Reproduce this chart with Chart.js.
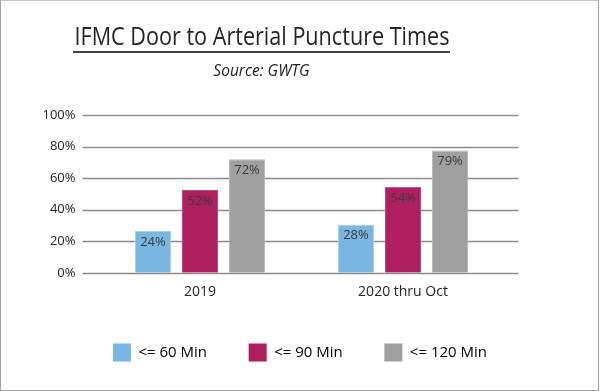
<!DOCTYPE html>
<html>
<head>
<meta charset="utf-8">
<script src="https://cdn.jsdelivr.net/npm/chart.js@4"></script>
<style>
  html, body { margin: 0; padding: 0; background: #fff; }
  #wrap { position: relative; width: 599px; height: 391px; box-sizing: border-box;
          border: 1px solid #a3a3a3; border-top-color: #c8c8c8; overflow: hidden; }
  #chart { position: absolute; left: -1px; top: -1px; }
  #title { position: absolute; left: 72px; top: 19px; width: 377px; height: 30px;
           border-bottom: 2px solid #444; padding-bottom: 1px; }
  #title span { position: absolute; left: 50%; top: 0; white-space: nowrap; line-height: 30px;
                font-family: "Open Sans", sans-serif; font-size: 25px; color: #262626; }
  #sub { position: absolute; left: 72px; top: 58px; width: 377px; text-align: center;
         font-family: "Open Sans", sans-serif; font-style: italic; font-size: 15.5px; color: #222; }
</style>
</head>
<body>
<div id="wrap">
  <canvas id="chart" width="600" height="391"></canvas>
  <div id="title"><span>IFMC Door to Arterial Puncture Times</span></div>
  <div id="sub">Source: GWTG</div>
</div>
<script>
const categories = ['2019', '2020 thru Oct'];
const seriesNames = ['<= 60 Min', '<= 90 Min', '<= 120 Min'];
const within60 = [26.5, 30.5];
const within90 = [52.5, 54.5];
const within120 = [72, 77.5];
const labels60 = ['24%', '28%'];
const labels90 = ['52%', '54%'];
const labels120 = ['72%', '79%'];
const yTicks = [0, 20, 40, 60, 80, 100];

const colors = ['#79b6e1', '#ad1f5f', '#9f9f9f'];
const edges = ['#a9d0ec', '#c04a80', '#b8b8b8'];
const seriesValues = [within60, within90, within120];
const seriesLabels = [labels60, labels90, labels120];

const font = "'Open Sans', sans-serif";

// squeeze the title so it fits the underline like the original
const titleSpan = document.querySelector('#title span');
const k = 375 / titleSpan.getBoundingClientRect().width;
titleSpan.style.transform = 'translateX(-50%) scaleX(' + k + ')';

const gridAndLabels = {
  id: 'gridAndLabels',
  beforeDatasetsDraw(chart) {
    const { ctx, chartArea, scales } = chart;
    ctx.save();
    ctx.strokeStyle = '#8c8c8c';
    ctx.lineWidth = 1.3;
    yTicks.forEach(v => {
      const y = Math.round(scales.y.getPixelForValue(v)) + 0.5;
      ctx.beginPath();
      ctx.moveTo(chartArea.left - 16, y);
      ctx.lineTo(chartArea.right + 14, y);
      ctx.stroke();
    });
    ctx.restore();
  },
  afterDatasetsDraw(chart) {
    const { ctx } = chart;
    ctx.save();
    ctx.font = '13px ' + font;
    ctx.fillStyle = '#3c3c3c';
    ctx.textAlign = 'center';
    ctx.textBaseline = 'middle';
    chart.data.datasets.forEach((ds, i) => {
      chart.getDatasetMeta(i).data.forEach((bar, j) => {
        ctx.fillText(seriesLabels[i][j], bar.x, bar.y + 11);
      });
    });
    ctx.restore();
  }
};

new Chart(document.getElementById('chart'), {
  type: 'bar',
  data: {
    labels: categories,
    datasets: seriesNames.map((name, i) => ({
      label: name,
      data: seriesValues[i],
      backgroundColor: colors[i],
      borderColor: edges[i],
      borderWidth: 1,
      categoryPercentage: 0.695,
      barPercentage: 0.766
    }))
  },
  options: {
    responsive: false,
    animation: false,
    layout: { padding: { top: 115, right: 0, left: 0, bottom: 19.6 } },
    scales: {
      x: {
        afterFit(scale) { scale.height = 29; },
        grid: { display: false, drawTicks: false },
        border: { display: false },
        ticks: { color: '#262626', font: { family: font, size: 14 }, padding: 11 }
      },
      y: {
        min: 0, max: 100,
        afterFit(scale) { scale.width = 98.5; },
        grid: { display: false, drawTicks: false },
        border: { display: false },
        afterBuildTicks(scale) { scale.ticks = yTicks.map(v => ({ value: v })); },
        ticks: { color: '#262626', font: { family: font, size: 13 }, padding: 23,
                 callback: v => v + '%' }
      },
      yRight: {
        position: 'right',
        min: 0, max: 100,
        afterFit(scale) { scale.width = 95.5; },
        grid: { display: false, drawTicks: false },
        border: { display: false },
        ticks: { display: false }
      }
    },
    plugins: {
      legend: {
        position: 'bottom',
        labels: {
          boxWidth: 18, boxHeight: 18, padding: 41.6,
          color: '#262626', font: { family: font, size: 15 },
          generateLabels(chart) {
            return chart.data.datasets.map((ds, i) => ({
              text: ds.label, fillStyle: colors[i], strokeStyle: colors[i],
              lineWidth: 0, datasetIndex: i, hidden: false
            }));
          }
        }
      },
      tooltip: { enabled: false }
    }
  },
  plugins: [gridAndLabels]
});
</script>
</body>
</html>
